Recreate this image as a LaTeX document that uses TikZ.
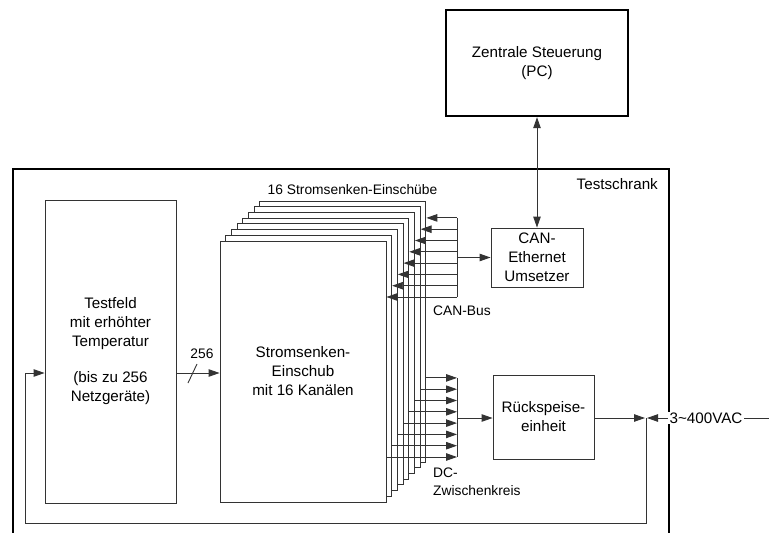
\documentclass[tikz,border=0pt]{standalone}
\usepackage{fontspec}
\setmainfont{Liberation Sans}
\usetikzlibrary{arrows.meta}
\begin{document}
\begin{tikzpicture}[x=1pt,y=-1pt,
  thinline/.style={line width=0.9pt, draw=black!80},
  thickline/.style={line width=2.4pt, draw=black},
  arr/.style={thinline, -{Triangle[length=11pt,width=7.5pt]}},
  darr/.style={thinline, {Triangle[length=11pt,width=7.5pt]}-{Triangle[length=11pt,width=7.5pt]}},
  bigfont/.style={font=\fontsize{15.2}{19}\selectfont},
  smallfont/.style={font=\fontsize{13.8}{18}\selectfont},
  box/.style={thinline, fill=white, inner sep=0pt, align=center, bigfont},
  lbl/.style={inner sep=0pt, smallfont},
]
\useasboundingbox (0,0) rectangle (769,533);

% outer cabinet
\node[thickline, inner sep=0pt, minimum width=656pt, minimum height=400pt, anchor=north west] (frame) at (12,168) {};
\node[bigfont, inner sep=0pt, anchor=east] (frametitle) at (658,184) {Testschrank};

% central control
\node[box, thickline, minimum width=182pt, minimum height=106pt] (pc) at (537,63) {Zentrale Steuerung\\(PC)};

% CAN-Ethernet converter
\node[box, minimum width=92pt, minimum height=59pt] (can) at (537,257.5) {CAN-\\Ethernet\\Umsetzer};

% feedback unit
\node[box, minimum width=101pt, minimum height=84pt] (rsp) at (543.5,417) {Rückspeise-\\einheit};

% test field
\node[box, minimum width=131pt, minimum height=303pt] (tf) at (110.5,351.5) {Testfeld\\mit erhöhter\\Temperatur\\[17pt](bis zu 256\\Netzgeräte)};

% card stack
\foreach \k in {7,6,...,1} {
  \node[box, minimum width=166pt, minimum height=261pt] (card\k) at ({303+5.7*\k},{371.5-5.7*\k}) {};
}
\node[box, minimum width=166pt, minimum height=261pt] (card0) at (303,371.5) {Stromsenken-\\Einschub\\mit 16 Kanälen};
\node[lbl] (stacklbl) at (352.5,190) {16 Stromsenken-Einschübe};

% PC <-> CAN converter
\draw[darr] (pc.south) -- (can.north);

% CAN bus
\foreach \k in {0,...,7} {
  \coordinate (cb\k) at (457,{297-11.3*\k});
  \draw[arr] (cb\k) -- (card\k.east |- cb\k);
}
\draw[thinline] (cb0) -- (cb7);
\coordinate (cbmid) at (457,257.5);
\draw[arr] (cbmid) -- (can.west);
\node[lbl, anchor=west] (canbuslbl) at (433,311) {CAN-Bus};

% DC link
\foreach \k in {0,...,7} {
  \coordinate (dc\k) at (457,{457-11.3*\k});
  \draw[arr] (card\k.east |- dc\k) -- (dc\k);
}
\draw[thinline] (dc0) -- (dc7);
\coordinate (dcmid) at (457,418);
\draw[arr] (dcmid) -- (rsp.west |- dcmid);
\node[lbl, anchor=west, align=left] (dclbl) at (433,482) {DC-\\Zwischenkreis};

% mains connection
\coordinate (junc) at (646,418);
\coordinate (mains) at (769,418);
\draw[arr] (rsp.east |- junc) -- ([xshift=-1pt]junc);
\draw[arr] (mains) -- node[pos=0.516, fill=white, inner xsep=2pt, inner ysep=1pt, bigfont] (mainslbl) {3\textasciitilde400VAC} ([xshift=1pt]junc);

% feedback loop into test field
\coordinate (sig) at (0,373);
\coordinate (loopR) at (646,523);
\coordinate (loopL) at (25,523);
\draw[arr] (junc) -- (loopR) -- (loopL) -- (loopL |- sig) -- (tf.west |- sig);

% 256 bus
\draw[arr] (tf.east |- sig) -- (card0.west |- sig);
\coordinate (slA) at (188,383);
\coordinate (slB) at (197,364);
\draw[thinline] (slA) -- (slB);
\node[lbl] (buslbl) at (202,354) {256};
\end{tikzpicture}
\end{document}
